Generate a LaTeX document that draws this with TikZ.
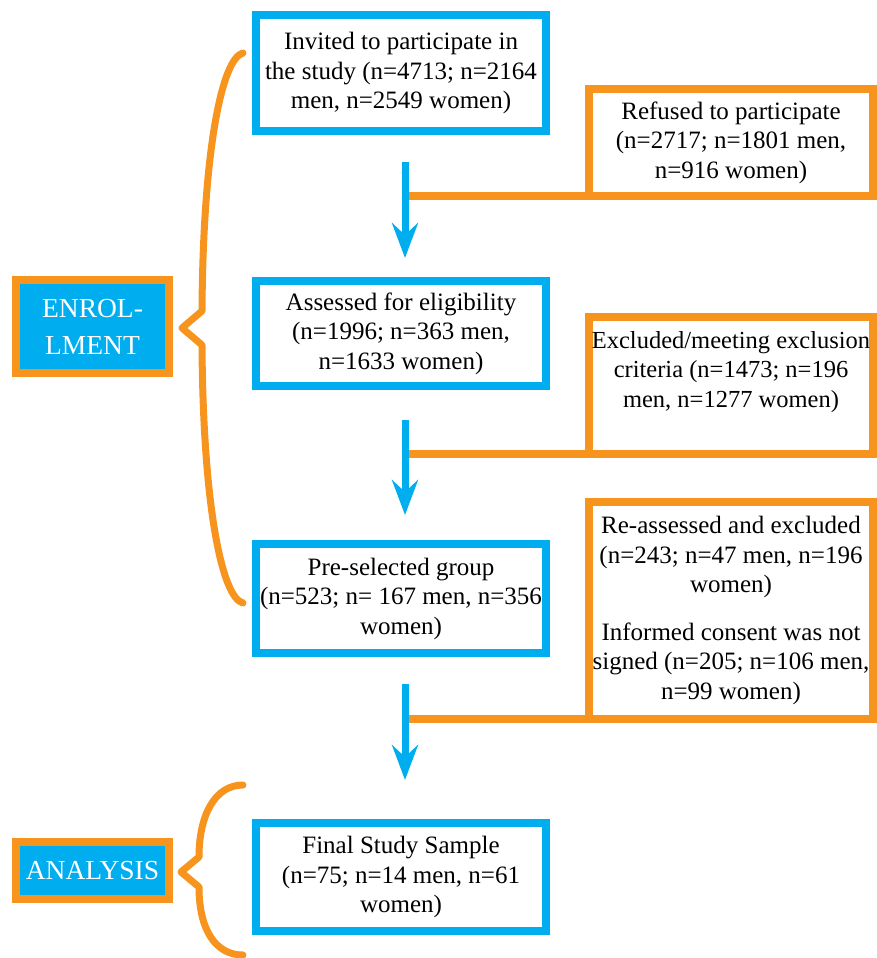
\documentclass[tikz,border=0pt]{standalone}
\usepackage{fontspec}
\setmainfont{Liberation Serif}
\usetikzlibrary{arrows.meta}
\definecolor{cyanb}{RGB}{0,174,239}
\definecolor{orng}{RGB}{247,148,29}
\begin{document}
\begin{tikzpicture}[x=1bp,y=-1bp,
  txt/.style={font=\fontsize{25bp}{29.5bp}\selectfont, align=center, inner sep=0pt},
  bluebox/.style={draw=cyanb, line width=8bp, minimum width=290bp, inner sep=0pt},
  orangebox/.style={draw=orng, line width=8bp, minimum width=284bp, inner sep=0pt},
  phasebox/.style={draw=orng, fill=cyanb, line width=8bp, text=white, minimum width=153bp,
    font=\fontsize{27.5bp}{37bp}\selectfont, align=center, inner sep=0pt},
  flowarrow/.style={draw=cyanb, line width=7bp, -{Stealth[length=35bp,width=26bp,inset=12bp]}},
  sideline/.style={draw=orng, line width=8bp},
  bracestyle/.style={draw=orng, line width=7bp, line join=round, line cap=round}
]
\useasboundingbox (0,0) rectangle (877,958);

% side connectors
\coordinate (j1) at (408,196);
\coordinate (j2) at (408,454);
\coordinate (j3) at (408,719);

% main flow boxes
\node[bluebox, txt, minimum height=116bp] (invited) at (401,73)
  {Invited to participate in\\the study (n=4713; n=2164\\men, n=2549 women)};
\node[bluebox, txt, minimum height=105bp] (assessed) at (401,333.5)
  {Assessed for eligibility\\(n=1996; n=363 men,\\n=1633 women)};
\node[bluebox, txt, minimum height=109bp] (preselected) at (401,598.5)
  {Pre-selected group\\(n=523; n= 167 men, n=356\\women)};
\node[bluebox, txt, minimum height=108bp] (final) at (401,877)
  {Final Study Sample\\(n=75; n=14 men, n=61\\women)};

% exclusion boxes
\node[orangebox, txt, minimum height=107bp] (refused) at (731,142.5)
  {Refused to participate\\(n=2717; n=1801 men,\\n=916 women)};
\node[orangebox, minimum height=137bp] (excluded) at (731,385.5) {};
\node[txt, font=\fontsize{24.5bp}{29.5bp}\selectfont, anchor=north] (excludedtxt) at (731,331)
  {Excluded/meeting exclusion\\criteria (n=1473; n=196\\men, n=1277 women)};
\node[orangebox, txt, minimum height=217bp] (reassessed) at (731,610.5)
  {Re-assessed and excluded\\(n=243; n=47 men, n=196\\women)\\[18bp]Informed consent was not\\signed (n=205; n=106 men,\\n=99 women)};

\draw[sideline] (j1) -- (j1 -| refused.west);
\draw[sideline] (j2) -- (j2 -| excluded.west);
\draw[sideline] (j3) -- (j3 -| reassessed.west);

% arrows
\coordinate (a1s) at (405,162); \coordinate (a1e) at (405,258);
\coordinate (a2s) at (405,420); \coordinate (a2e) at (405,515);
\coordinate (a3s) at (405,684); \coordinate (a3e) at (405,780);
\draw[flowarrow] (a1s) -- (a1e);
\draw[flowarrow] (a2s) -- (a2e);
\draw[flowarrow] (a3s) -- (a3e);

% phase labels
\node[phasebox, minimum height=93bp] (enrol) at (92.5,326.5) {ENROL-\\LMENT};
\node[phasebox, minimum height=57bp] (analysis) at (92.5,870.5) {ANALYSIS};

% braces
\coordinate (b1top) at (243,53);
\coordinate (b1tip) at (182,328);
\coordinate (b1bot) at (243,603);
\draw[bracestyle] (b1top) .. controls (222,58) and (203,150) .. (202,311)
  -- (b1tip) -- (202,345) .. controls (203,506) and (222,598) .. (b1bot);
\coordinate (b2top) at (243,785);
\coordinate (b2tip) at (181,872);
\coordinate (b2bot) at (243,955);
\draw[bracestyle] (b2top) .. controls (215,785) and (199,815) .. (199,857)
  -- (b2tip) -- (199,887) .. controls (199,929) and (215,955) .. (b2bot);
\end{tikzpicture}
\end{document}
